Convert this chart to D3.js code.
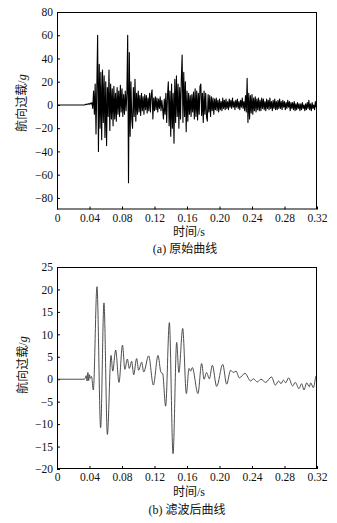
<!DOCTYPE html>
<html>
<head>
<meta charset="utf-8">
<script src="https://cdn.jsdelivr.net/npm/d3@7"></script>
<style>
  body { margin: 0; background: #fff; }
  svg { display: block; }
  .tick line { stroke: #000; }
</style>
</head>
<body>
<div id="chart"></div>
<script>
(function () {

    var width = 337;
    var height = 523;

    // x axis shared by both panels
    var xTicks = [0, 0.04, 0.08, 0.12, 0.16, 0.20, 0.24, 0.28, 0.32];

    // (a) raw signal, one value every 0.001 s from t = 0
    var rawStep = 0.001;
    var rawValues = [
        0, 0, 0, 0, 0, 0, 0, 0, 0, 0,
        0, 0, 0, 0, 0, 0, 0, 0, 0, 0,
        0, 0, 0, 0, 0, 0, 0, 0, 0, 0,
        0, 0, 0, 0, 0, 0.5, 0.3, 0.8, 0.5, 1.2,
        0.6, 1.5, 0.8, 2, -3, 12, -8, 18, -25, 15,
        60, -40, 35, -20, 28, -30, 30, -15, 25, -28,
        20, -35, 15, -10, 30, -22, 18, -12, 14, -18,
        16, -12, 10, -14, 15, -8, 12, -10, 17, -6,
        14, -10, 9, -8, 12, -5, 10, 60, -67, 45,
        -27, 20, -12, -20, 15, -10, 22, -14, 10, -8,
        12, -6, 8, -9, 10, -5, 7, -8, 9, -4,
        8, -7, 6, -5, 10, -6, 9, 13, -12, 6,
        -5, 7, -4, 6, -6, 5, -3, 7, -5, 4,
        -3, -12, 5, -8, 10, -15, 8, 20, -18, 12,
        -27, 18, -20, 10, -33, 22, -15, 25, -10, 18,
        -20, 15, -12, 22, 43, -15, 28, -10, 20, -23,
        12, -14, 10, -8, 8, -10, 9, -6, 11, -12,
        14, -10, 12, -13, 10, -8, 16, 18, -9, 10,
        -15, 12, -8, 10, -10, -14, 9, -6, 8, -10,
        7, -5, 6, -8, 5, -4, 6, -5, 4, -6,
        5, -4, 3, -5, 6, -3, 4, -4, 5, -3,
        3, -4, 5, -2, 4, -3, 6, -2, 3, -4,
        4, -2, 5, -3, 3, -4, 4, -2, 6, -3,
        3, -5, 8, -6, 23, -15, 10, -12, 8, -7,
        9, -8, 6, -5, 7, -6, 5, -4, 6, -5,
        4, -5, 6, -3, 5, -4, 3, -5, 5, -3,
        4, -4, 6, -3, 3, -5, 4, -3, 5, -4,
        3, -4, 4, -3, 5, -3, 3, -4, 4, -2,
        3, -4, 2, -3, 4, -2, 3, -5, 2, -3,
        2, -4, 3, -5, 1, -4, 2, -3, 1, -5,
        1, -4, 2, -3, 0, -5, 1, -4, 2, -3,
        4, -4, 1, -5, 2, -3, 0, -4, 3, -2, -1
    ];
    var rawYTicks = [-80, -60, -40, -20, 0, 20, 40, 60, 80];

    // (b) filtered signal, turning points
    var filtT = [0, 0.034, 0.036, 0.037, 0.038, 0.039, 0.040, 0.041, 0.0425, 0.0447,
        0.0492, 0.0537, 0.0578, 0.062, 0.0665, 0.0686, 0.0722, 0.0763, 0.0806, 0.0835,
        0.0866, 0.089, 0.0919, 0.0944, 0.098, 0.1005, 0.1042, 0.1067, 0.1128, 0.1186,
        0.1243, 0.128, 0.130, 0.1337, 0.1383, 0.1428, 0.1473, 0.150, 0.1547, 0.1592,
        0.1625, 0.1645, 0.1665, 0.1735, 0.178, 0.181, 0.184, 0.1875, 0.1912, 0.1965,
        0.204, 0.2088, 0.2137, 0.217, 0.2203, 0.2244, 0.2314, 0.2384, 0.2416, 0.2466,
        0.251, 0.2568, 0.264, 0.2687, 0.2728, 0.2757, 0.2786, 0.2814, 0.2851, 0.290,
        0.2933, 0.2978, 0.3011, 0.304, 0.3073, 0.3106, 0.3122, 0.3155, 0.3188, 0.32];
    var filtV = [0, 0, 0.8, -0.4, 1.5, -0.3, 1.0, 0.2, 0.6, -2.4,
        20.6, -10.8, 17.0, -12.3, 5.3, 1.8, 6.5, -0.7, 7.6, 2.2,
        4.5, 2.4, 4.0, 1.0, 4.6, 2.0, 3.8, 1.6, 5.2, -1.3,
        5.3, 1.5, 1.3, -6.0, 12.6, -16.6, 8.2, 1.5, 11.3, -3.2,
        2.4, 1.8, 2.6, -3.2, 3.5, 0.0, 1.5, 0.1, 3.1, -1.6,
        3.3, -1.1, 2.0, 1.5, 1.8, 0.3, 1.3, -0.4, 0.1, -0.6,
        0.0, -0.7, 0.5, -1.3, -0.4, -1.0, -0.2, -0.8, 0.3, -1.5,
        -0.7, -2.1, -1.0, -2.4, -0.8, -1.7, -0.8, -1.9, 0.7, 0.9];
    var filtYTicks = [-20, -15, -10, -5, 0, 5, 10, 15, 20, 25];

    var serif = "'Liberation Serif', 'Times New Roman', serif";
    var cjk = "'Noto Sans CJK SC', sans-serif";

    var svg = d3.select("#chart")
        .append("svg")
        .attr("width", width)
        .attr("height", height);

    var left = 57, right = 317;

    var x = d3.scaleLinear().domain([0, 0.32]).range([left, right]);

    function fmtY(d) {
        return d < 0 ? "\u2212" + Math.abs(d) : String(d);
    }
    function fmtX(d) {
        return d === 0 ? "0" : d3.format(".2f")(d);
    }

    function styleAxis(s) {
        s.attr("font-family", serif).attr("font-size", 11.5);
        s.select(".domain").remove();
        s.selectAll(".tick text").attr("fill", "#111");
    }

    // mixed label: chinese part in CJK face, latin part in serif
    function mixedLabel(sel, parts) {
        parts.forEach(function (p) {
            sel.append("tspan")
                .attr("font-family", p.cjk ? cjk : serif)
                .attr("font-style", p.italic ? "italic" : null)
                .text(p.t);
        });
    }

    function panel(opts) {
        var y = d3.scaleLinear().domain(opts.domain).range([opts.bottom, opts.top]);
        var g = svg.append("g");
        var id = "clip" + opts.name;

        svg.append("clipPath").attr("id", id)
            .append("rect")
            .attr("x", left).attr("y", opts.top)
            .attr("width", right - left).attr("height", opts.bottom - opts.top);

        g.append("g")
            .attr("transform", "translate(0," + opts.bottom + ")")
            .call(d3.axisBottom(x).tickValues(xTicks).tickFormat(fmtX)
                .tickSize(-3).tickPadding(4))
            .call(styleAxis);

        g.append("g")
            .attr("transform", "translate(" + left + ",0)")
            .call(d3.axisLeft(y).tickValues(opts.ticks).tickFormat(fmtY)
                .tickSize(-3).tickPadding(4))
            .call(styleAxis);

        var line = d3.line()
            .x(function (d) { return x(d[0]); })
            .y(function (d) { return y(d[1]); })
            .curve(opts.curve);

        g.append("path")
            .datum(opts.data)
            .attr("clip-path", "url(#" + id + ")")
            .attr("fill", "none")
            .attr("stroke", opts.color)
            .attr("stroke-width", opts.lw)
            .attr("stroke-linejoin", "round")
            .attr("d", line);

        g.append("rect")
            .attr("x", left + 0.5).attr("y", opts.top + 0.5)
            .attr("width", right - left - 1).attr("height", opts.bottom - opts.top - 1)
            .attr("fill", "none").attr("stroke", "#000").attr("stroke-width", 1);

        var yl = g.append("text")
            .attr("font-size", 12).attr("fill", "#111")
            .attr("transform", "translate(" + opts.ylx + "," + opts.yly + ") rotate(-90)")
            .attr("text-anchor", "middle")
            .attr("dy", "0.35em");
        mixedLabel(yl, [{ t: "航向过载", cjk: true }, { t: "/" }, { t: "g", italic: true }]);

        var xl = g.append("text")
            .attr("font-size", 12).attr("fill", "#111")
            .attr("x", 189).attr("y", opts.xly)
            .attr("text-anchor", "middle")
            .attr("dy", "0.35em");
        mixedLabel(xl, [{ t: "时间", cjk: true }, { t: "/s" }]);

        var cap = g.append("text")
            .attr("font-size", 12).attr("fill", "#111")
            .attr("x", opts.capx).attr("y", opts.capy)
            .attr("text-anchor", "middle")
            .attr("dy", "0.35em");
        mixedLabel(cap, [{ t: opts.capTag + " " }, { t: opts.caption, cjk: true }]);
    }

    var rawData = rawValues.map(function (v, i) { return [i * rawStep, v]; });
    var filtData = filtT.map(function (t, i) { return [t, filtV[i]]; });

    panel({
        name: "a", top: 12, bottom: 209.5, domain: [-90, 80], ticks: rawYTicks,
        data: rawData, curve: d3.curveLinear, color: "#000", lw: 1.1,
        ylx: 22, yly: 103, xly: 232, capx: 185, capy: 249,
        capTag: "(a)", caption: "原始曲线"
    });

    panel({
        name: "b", top: 267, bottom: 469, domain: [-20, 25], ticks: filtYTicks,
        data: filtData, curve: d3.curveMonotoneX, color: "#3a3a3a", lw: 0.9,
        ylx: 23, yly: 365, xly: 492, capx: 187, capy: 510,
        capTag: "(b)", caption: "滤波后曲线"
    });

})();
</script>
</body>
</html>
